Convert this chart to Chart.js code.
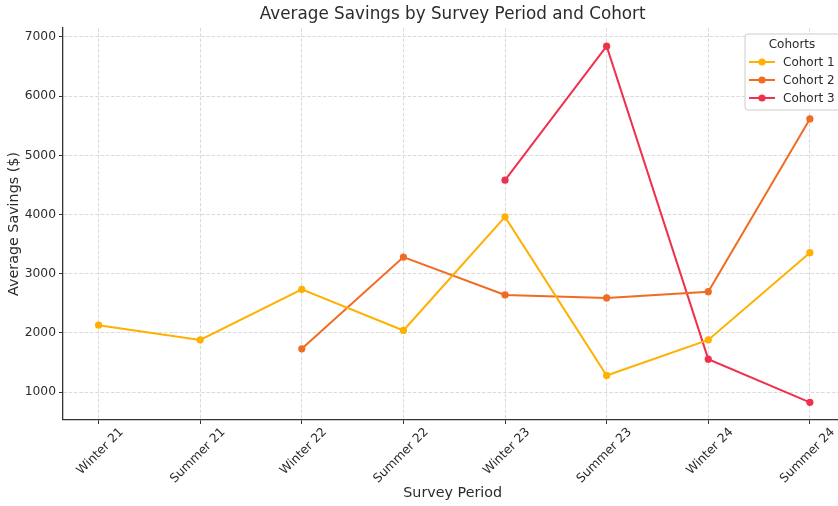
<!DOCTYPE html>
<html lang="en">
<head>
    <meta charset="UTF-8">
    <title>Average Savings by Survey Period and Cohort</title>
    <script src="https://cdn.jsdelivr.net/npm/chart.js"></script>
    <style>
        body {
            margin: 0;
            padding: 0;
            background-color: #ffffff;
            overflow: hidden;
        }

        /* canvas is a bit wider than the window, the right edge gets clipped like the original */
        #chart-wrap {
            width: 838px;
            height: 506px;
            overflow: hidden;
        }
    </style>
</head>
<body>
    <div id="chart-wrap">
        <canvas id="savings-chart" width="846" height="506"></canvas>
    </div>

    <script>
        const periods = ['Winter 21', 'Summer 21', 'Winter 22', 'Summer 22', 'Winter 23', 'Summer 23', 'Winter 24', 'Summer 24'];
        const cohortNames = ['Cohort 1', 'Cohort 2', 'Cohort 3'];
        const cohort1 = [2130, 1880, 2735, 2040, 3960, 1280, 1880, 3355];
        const cohort2 = [null, null, 1730, 3280, 2640, 2590, 2695, 5615];
        const cohort3 = [null, null, null, null, 4580, 6845, 1555, 825];
        const yTicks = [1000, 2000, 3000, 4000, 5000, 6000, 7000];
        const cohortColors = ['#ffb000', '#f26b22', '#f0304f'];

        const FONT = "'DejaVu Sans', sans-serif";
        const TEXT = '#2b2b2b';

        function toPoints(values) {
            return values
                .map((v, i) => (v === null ? null : { x: i, y: v }))
                .filter(p => p !== null);
        }

        function makeDataset(label, values, color) {
            return {
                label: label,
                data: toPoints(values),
                borderColor: color,
                backgroundColor: color,
                borderWidth: 2,
                pointRadius: 3.6,
                pointBorderWidth: 0,
                pointHoverRadius: 3.6,
                tension: 0
            };
        }

        // legend box drawn inside the plot, top right, like matplotlib's
        const cornerLegend = {
            id: 'cornerLegend',
            afterDraw(chart) {
                const ctx = chart.ctx;
                const x0 = 745, y0 = 34, w = 95, h = 76;
                ctx.save();
                ctx.beginPath();
                ctx.roundRect(x0, y0, w, h, 3);
                ctx.fillStyle = 'rgba(255,255,255,0.85)';
                ctx.fill();
                ctx.strokeStyle = '#cccccc';
                ctx.lineWidth = 1;
                ctx.stroke();

                ctx.fillStyle = TEXT;
                ctx.font = '12px ' + FONT;
                ctx.textAlign = 'center';
                ctx.textBaseline = 'middle';
                ctx.fillText('Cohorts', 792, 45);

                chart.data.datasets.forEach((ds, i) => {
                    const y = 62 + i * 18;
                    ctx.strokeStyle = ds.borderColor;
                    ctx.lineWidth = 2;
                    ctx.beginPath();
                    ctx.moveTo(749, y);
                    ctx.lineTo(775, y);
                    ctx.stroke();
                    ctx.fillStyle = ds.borderColor;
                    ctx.beginPath();
                    ctx.arc(762, y, 3.6, 0, Math.PI * 2);
                    ctx.fill();
                    ctx.fillStyle = TEXT;
                    ctx.textAlign = 'left';
                    ctx.fillText(ds.label, 783, y + 1);
                });
                ctx.restore();
            }
        };

        const gridOpts = {
            color: '#dadada',
            lineWidth: 1,
            tickColor: '#333333',
            tickLength: 4,
            tickWidth: 1
        };
        const borderOpts = { color: '#333333', width: 1.3, dash: [3.5, 1.8] };

        let ctx = document.getElementById('savings-chart').getContext('2d');
        let savingsChart = new Chart(ctx, {
            type: 'line',
            data: {
                datasets: [
                    makeDataset(cohortNames[0], cohort1, cohortColors[0]),
                    makeDataset(cohortNames[1], cohort2, cohortColors[1]),
                    makeDataset(cohortNames[2], cohort3, cohortColors[2])
                ]
            },
            options: {
                responsive: false,
                animation: false,
                devicePixelRatio: 1,
                layout: { padding: 0 },
                scales: {
                    x: {
                        type: 'linear',
                        min: -0.35,
                        max: 7.32,
                        afterBuildTicks: s => { s.ticks = periods.map((p, i) => ({ value: i })); },
                        afterFit: s => { s.height = 86; s.paddingLeft = 0; s.paddingRight = 0; },
                        ticks: {
                            autoSkip: false,
                            minRotation: 45,
                            maxRotation: 45,
                            labelOffset: 23,
                            padding: 1,
                            color: TEXT,
                            font: { family: FONT, size: 12.3 },
                            callback: v => periods[v]
                        },
                        grid: gridOpts,
                        border: borderOpts,
                        title: {
                            display: true,
                            text: 'Survey Period',
                            color: TEXT,
                            font: { family: FONT, size: 14.3 },
                            padding: { top: 2, bottom: 4 }
                        }
                    },
                    y: {
                        min: 527,
                        max: 7152,
                        afterBuildTicks: s => { s.ticks = yTicks.map(v => ({ value: v })); },
                        afterFit: s => { s.width = 63; s.paddingTop = 0; s.paddingBottom = 0; },
                        ticks: {
                            padding: 3,
                            color: TEXT,
                            font: { family: FONT, size: 12.3 },
                            callback: v => String(v)
                        },
                        grid: gridOpts,
                        border: borderOpts,
                        title: {
                            display: true,
                            text: 'Average Savings ($)',
                            color: TEXT,
                            font: { family: FONT, size: 14.3 },
                            padding: { top: 6, bottom: 2 }
                        }
                    }
                },
                plugins: {
                    legend: { display: false },
                    tooltip: { enabled: false },
                    title: {
                        display: true,
                        fullSize: false,
                        text: 'Average Savings by Survey Period and Cohort',
                        color: TEXT,
                        font: { family: FONT, size: 16.8, weight: 'normal' },
                        padding: { top: 4.5, bottom: 3.3 }
                    }
                }
            },
            plugins: [cornerLegend]
        });
    </script>
</body>
</html>
